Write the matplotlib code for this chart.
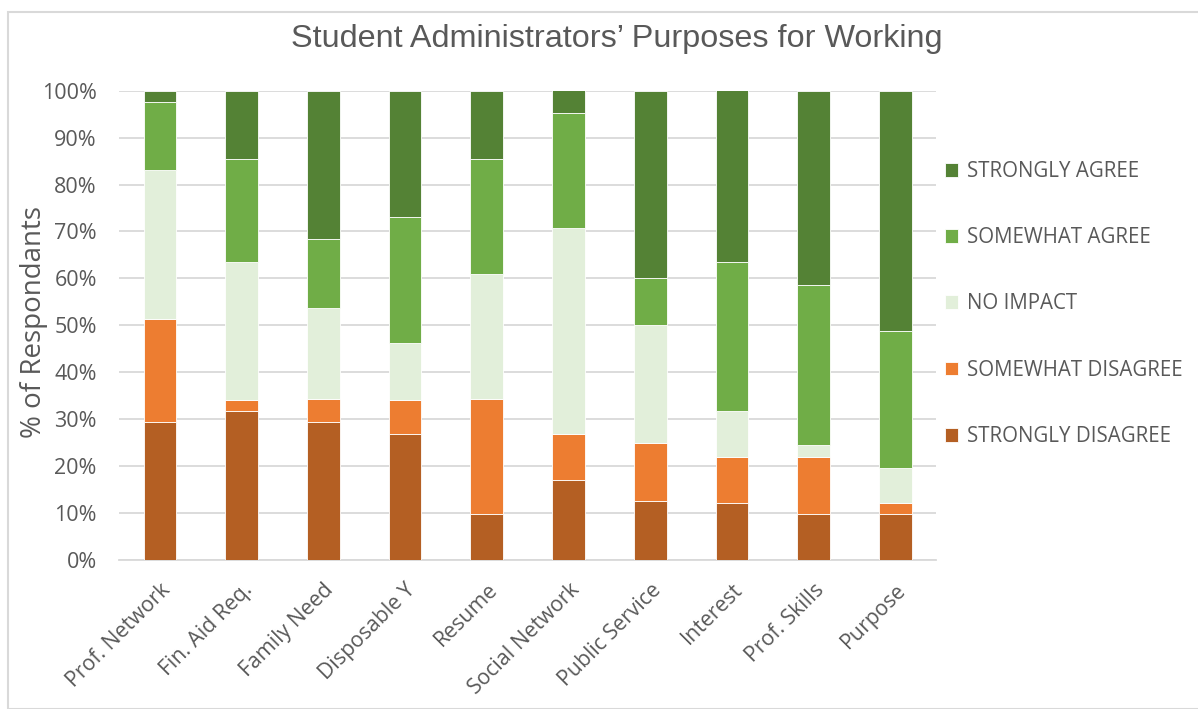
import matplotlib
matplotlib.use("Agg")
import matplotlib.pyplot as plt
from matplotlib.patches import Rectangle
import numpy as np

# Survey categories (x axis)
categories = ["Prof. Network", "Fin. Aid Req.", "Family Need", "Disposable Y", "Resume",
              "Social Network", "Public Service", "Interest", "Prof. Skills", "Purpose"]

# Share of respondents per answer (%), bottom to top of each stacked bar
strongly_disagree = [29.3, 31.7, 29.3, 26.8, 9.8, 17.1, 12.5, 12.2, 9.8, 9.8]
somewhat_disagree = [22.0, 2.4, 4.9, 7.3, 24.4, 9.8, 12.5, 9.8, 12.2, 2.4]
no_impact = [31.7, 29.3, 19.5, 12.2, 26.8, 43.9, 25.0, 9.8, 2.4, 7.3]
somewhat_agree = [14.6, 22.0, 14.6, 26.8, 24.4, 24.4, 10.0, 31.7, 34.1, 29.3]
strongly_agree = [2.4, 14.6, 31.7, 26.8, 14.6, 4.9, 40.0, 36.6, 41.5, 51.2]

series_names = ["STRONGLY DISAGREE", "SOMEWHAT DISAGREE", "NO IMPACT",
                "SOMEWHAT AGREE", "STRONGLY AGREE"]
series_values = [strongly_disagree, somewhat_disagree, no_impact,
                 somewhat_agree, strongly_agree]
series_colors = ["#B45F23", "#ED7D31", "#E2EFDA", "#70AD47", "#548235"]

yticks = [0, 10, 20, 30, 40, 50, 60, 70, 80, 90, 100]

TEXT = "#595959"
GRID = "#D9D9D9"
FONT = ["Open Sans", "DejaVu Sans"]

W, H = 1198, 709
fig = plt.figure(figsize=(W / 100, H / 100), dpi=100)
fig.patch.set_facecolor("white")

# chart-area border
fig.patches.append(Rectangle((7.5 / W, 0), 1.2, 1 - 11.5 / H, transform=fig.transFigure,
                             fill=False, edgecolor=GRID, linewidth=1.5))

ax = fig.add_axes([119 / W, 1 - 560 / H, (936.4 - 119) / W, (560 - 90.7) / H])

x = np.arange(len(categories))
bottom = np.zeros(len(categories))
handles = []
for name, vals, col in zip(series_names, series_values, series_colors):
    vals = np.array(vals, dtype=float)
    b = ax.bar(x, vals, width=0.4, bottom=bottom, color=col, edgecolor="white",
               linewidth=0.6, label=name, zorder=3)
    handles.append(b)
    bottom += vals

ax.set_xlim(-0.5, len(categories) - 0.5)
ax.set_ylim(0, 100)
ax.set_yticks(yticks)
ax.set_yticklabels([f"{t}%" for t in yticks], fontsize=15.5, color=TEXT, family=FONT)
ax.set_xticks(x)
ax.set_xticklabels(categories, rotation=45, ha="right", rotation_mode="anchor",
                   fontsize=15.3, color=TEXT, family=FONT)
ax.tick_params(axis="both", length=0)
ax.tick_params(axis="y", pad=16)
ax.tick_params(axis="x", pad=14)

ax.grid(axis="y", color=GRID, linewidth=1.3, zorder=0)
for s in ["left", "right", "top"]:
    ax.spines[s].set_visible(False)
ax.spines["bottom"].set_color(GRID)
ax.spines["bottom"].set_linewidth(1.3)

fig.text(617 / W, 1 - 39 / H, "Student Administrators\u2019 Purposes for Working",
         ha="center", va="center", fontsize=23.3, color=TEXT,
         family=["Liberation Sans", "DejaVu Sans"])

fig.text(34 / W, 1 - 322 / H, "% of Respondants", rotation=90, ha="center", va="center",
         fontsize=20, color=TEXT, family=FONT)

leg = fig.legend(handles[::-1], series_names[::-1], loc="upper left",
                 bbox_to_anchor=(945 / W, 1 - 161 / H), frameon=False,
                 prop={"family": FONT, "size": 14.8}, labelcolor=TEXT,
                 handlelength=0.65, handleheight=0.65, handletextpad=0.4,
                 labelspacing=2.2, borderpad=0, borderaxespad=0)

fig.savefig("out.png", dpi=100)
